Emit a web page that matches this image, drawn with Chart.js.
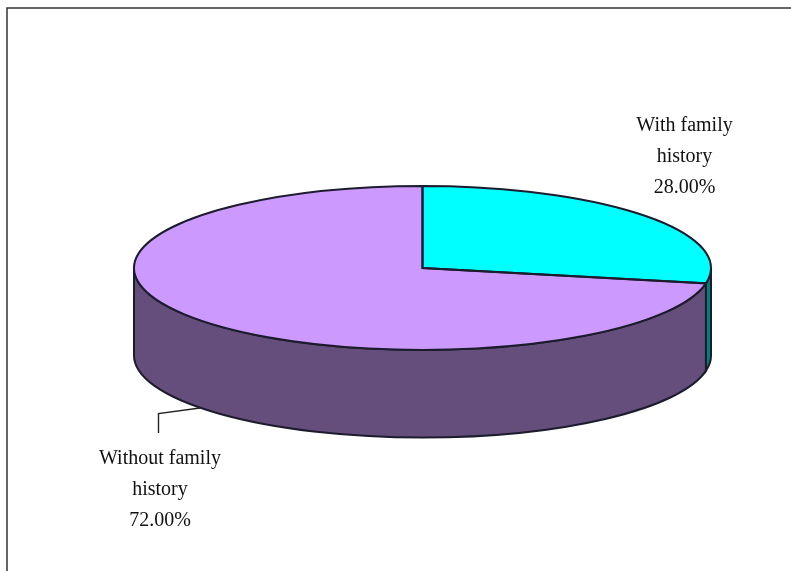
<!DOCTYPE html>
<html>
<head>
<meta charset="utf-8">
<title>Family history</title>
<script src="https://cdn.jsdelivr.net/npm/chart.js@4"></script>
<style>
  html, body { margin: 0; padding: 0; background: #fff; overflow: hidden; }
  canvas { display: block; }
</style>
</head>
<body>
<canvas id="chartCanvas" width="791" height="571"></canvas>
<script>
// --- Data ---
const categories = ["With family history", "Without family history"];
const shares = [28, 72];
const sliceColors = ["#00FFFF", "#CC99FF"];
const wallColors = ["#008080", "#664E7C"];
const labelLines = [["With family", "history"], ["Without family", "history"]];

// --- Fake 3D: the pie is flattened, and walls are hung under its front edge ---
const RX = 288.5;
const RY = 82;
const DEPTH = 87.5;
const OUTLINE = "#1c1c2c";
const OUTLINE_WIDTH = 2;

// where the label text is centred, first baseline and line step
const labelSpots = [{ x: 684.5, y: 131 }, { x: 160, y: 464 }];
const LINE_STEP = 31;

function ellipseOf(arc) {
  const p = arc.getProps(["x", "y", "startAngle", "endAngle", "outerRadius"], true);
  return p;
}

const pie3d = {
  id: "pie3d",
  beforeDatasetsDraw(chart) {
    const ctx = chart.ctx;
    const arcs = chart.getDatasetMeta(0).data;

    // frame, only top and left are in the shot
    ctx.save();
    ctx.strokeStyle = "#333";
    ctx.lineWidth = 1.5;
    ctx.beginPath();
    ctx.moveTo(7, 571);
    ctx.lineTo(7, 8);
    ctx.lineTo(791, 8);
    ctx.stroke();

    // walls, only the part of each slice facing the viewer (0..PI on canvas)
    arcs.forEach((arc, i) => {
      const p = ellipseOf(arc);
      const a = Math.max(p.startAngle, 0);
      const b = Math.min(p.endAngle, Math.PI);
      if (b <= a) return;
      ctx.beginPath();
      ctx.ellipse(p.x, p.y, RX, RY, 0, a, b);
      ctx.ellipse(p.x, p.y + DEPTH, RX, RY, 0, b, a, true);
      ctx.closePath();
      ctx.fillStyle = wallColors[i];
      ctx.fill();
      ctx.strokeStyle = OUTLINE;
      ctx.lineWidth = OUTLINE_WIDTH;
      ctx.stroke();
    });
    ctx.restore();

    // squash the slices the library draws next
    const c = arcs[0].getProps(["x", "y", "outerRadius"], true);
    ctx.save();
    ctx.translate(c.x, c.y);
    ctx.scale(RX / c.outerRadius, RY / c.outerRadius);
    ctx.translate(-c.x, -c.y);
  },
  afterDatasetsDraw(chart) {
    const ctx = chart.ctx;
    ctx.restore();

    // slice outlines have to be stroked without the squash or they go uneven
    chart.getDatasetMeta(0).data.forEach(arc => {
      const p = ellipseOf(arc);
      ctx.beginPath();
      ctx.moveTo(p.x, p.y);
      ctx.ellipse(p.x, p.y, RX, RY, 0, p.startAngle, p.endAngle);
      ctx.closePath();
      ctx.strokeStyle = OUTLINE;
      ctx.lineWidth = OUTLINE_WIDTH;
      ctx.stroke();
    });

    // leader line for the lower label
    ctx.strokeStyle = "#222";
    ctx.lineWidth = 1.4;
    ctx.beginPath();
    ctx.moveTo(158.5, 433);
    ctx.lineTo(158.5, 413.5);
    ctx.lineTo(200, 408);
    ctx.stroke();

    // labels
    ctx.fillStyle = "#111";
    ctx.font = '20px "Liberation Serif"';
    ctx.textAlign = "center";
    ctx.textBaseline = "alphabetic";
    labelLines.forEach((lines, i) => {
      const spot = labelSpots[i];
      const all = [...lines, shares[i].toFixed(2) + "%"];
      all.forEach((t, n) => ctx.fillText(t, spot.x, spot.y + n * LINE_STEP));
    });
  }
};

new Chart(document.getElementById("chartCanvas"), {
  type: "pie",
  data: {
    labels: categories,
    datasets: [{
      data: shares,
      backgroundColor: sliceColors,
      borderWidth: 0,
      hoverOffset: 0,
      clip: false
    }]
  },
  options: {
    responsive: false,
    animation: false,
    layout: { padding: { left: 54, right: 0, top: 0, bottom: 35 } },
    plugins: {
      legend: { display: false },
      tooltip: { enabled: false }
    }
  },
  plugins: [pie3d]
});
</script>
</body>
</html>
